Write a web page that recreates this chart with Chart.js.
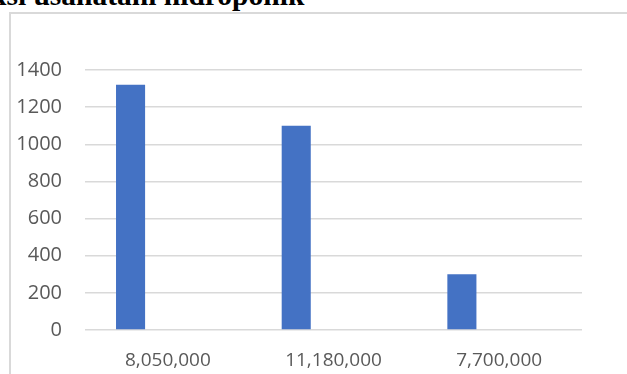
<!DOCTYPE html>
<html>
<head>
<meta charset="utf-8">
<script src="https://cdn.jsdelivr.net/npm/chart.js@4"></script>
<style>
  body { margin: 0; width: 627px; height: 374px; overflow: hidden; background: #fff; position: relative; }
  #judul {
    position: absolute; left: -10px; top: -25px; margin: 0;
    font-family: "Liberation Serif", "Times New Roman", serif;
    font-weight: bold; font-size: 29.5px; line-height: 40px; white-space: nowrap; color: #000;
  }
  #kotak {
    position: absolute; left: 9px; top: 12px; width: 700px; height: 420px;
    border: 2px solid #d9d9d9; background: #fff;
  }
  #wadah { position: absolute; left: 0; top: 0; width: 616px; height: 360px; }
</style>
</head>
<body>
<div id="judul">ksi usahatani hidroponik</div>
<div id="kotak">
  <div id="wadah"><canvas id="grafikProduksi"></canvas></div>
</div>
<script>
const kategori = ["8,050,000", "11,180,000", "7,700,000"];
const produksi = [1320, 1100, 300];
const kosong = [null, null, null];

const grafikProduksi = () => {
  let canvasProduksi = document.getElementById("grafikProduksi");

  var seriProduksi = {
    label: "Produksi",
    data: produksi,
    backgroundColor: "#4472C4",
    categoryPercentage: 0.9,
    barPercentage: 0.39,
  };

  var seriKosong = {
    label: "",
    data: kosong,
    backgroundColor: "#ED7D31",
    categoryPercentage: 0.9,
    barPercentage: 0.39,
  };

  var chartOptions = {
    responsive: true,
    maintainAspectRatio: false,
    animation: false,
    layout: { padding: { left: 0, top: 56, right: 45, bottom: 0 } },
    plugins: {
      legend: { display: false },
      tooltip: { enabled: false },
    },
    scales: {
      x: {
        grid: { display: false },
        border: { display: false },
        ticks: {
          color: "#595959",
          font: { family: "'Open Sans', 'Noto Sans', sans-serif", size: 19 },
          padding: 11,
          maxRotation: 0,
        },
        afterFit: (axis) => { axis.height = 44; },
      },
      y: {
        min: 0,
        max: 1400,
        grid: { color: "#d9d9d9", lineWidth: 1.5, drawTicks: false },
        border: { display: false },
        ticks: {
          stepSize: 200,
          color: "#595959",
          font: { family: "'Open Sans', 'Noto Sans', sans-serif", size: 20 },
          padding: 23,
          // angka sumbu tanpa pemisah ribuan
          callback: (nilai) => String(nilai),
        },
        afterFit: (axis) => { axis.width = 74; },
      },
    },
  };

  new Chart(canvasProduksi, {
    type: "bar",
    data: { labels: kategori, datasets: [seriProduksi, seriKosong] },
    options: chartOptions,
  });
};

grafikProduksi();
</script>
</body>
</html>
